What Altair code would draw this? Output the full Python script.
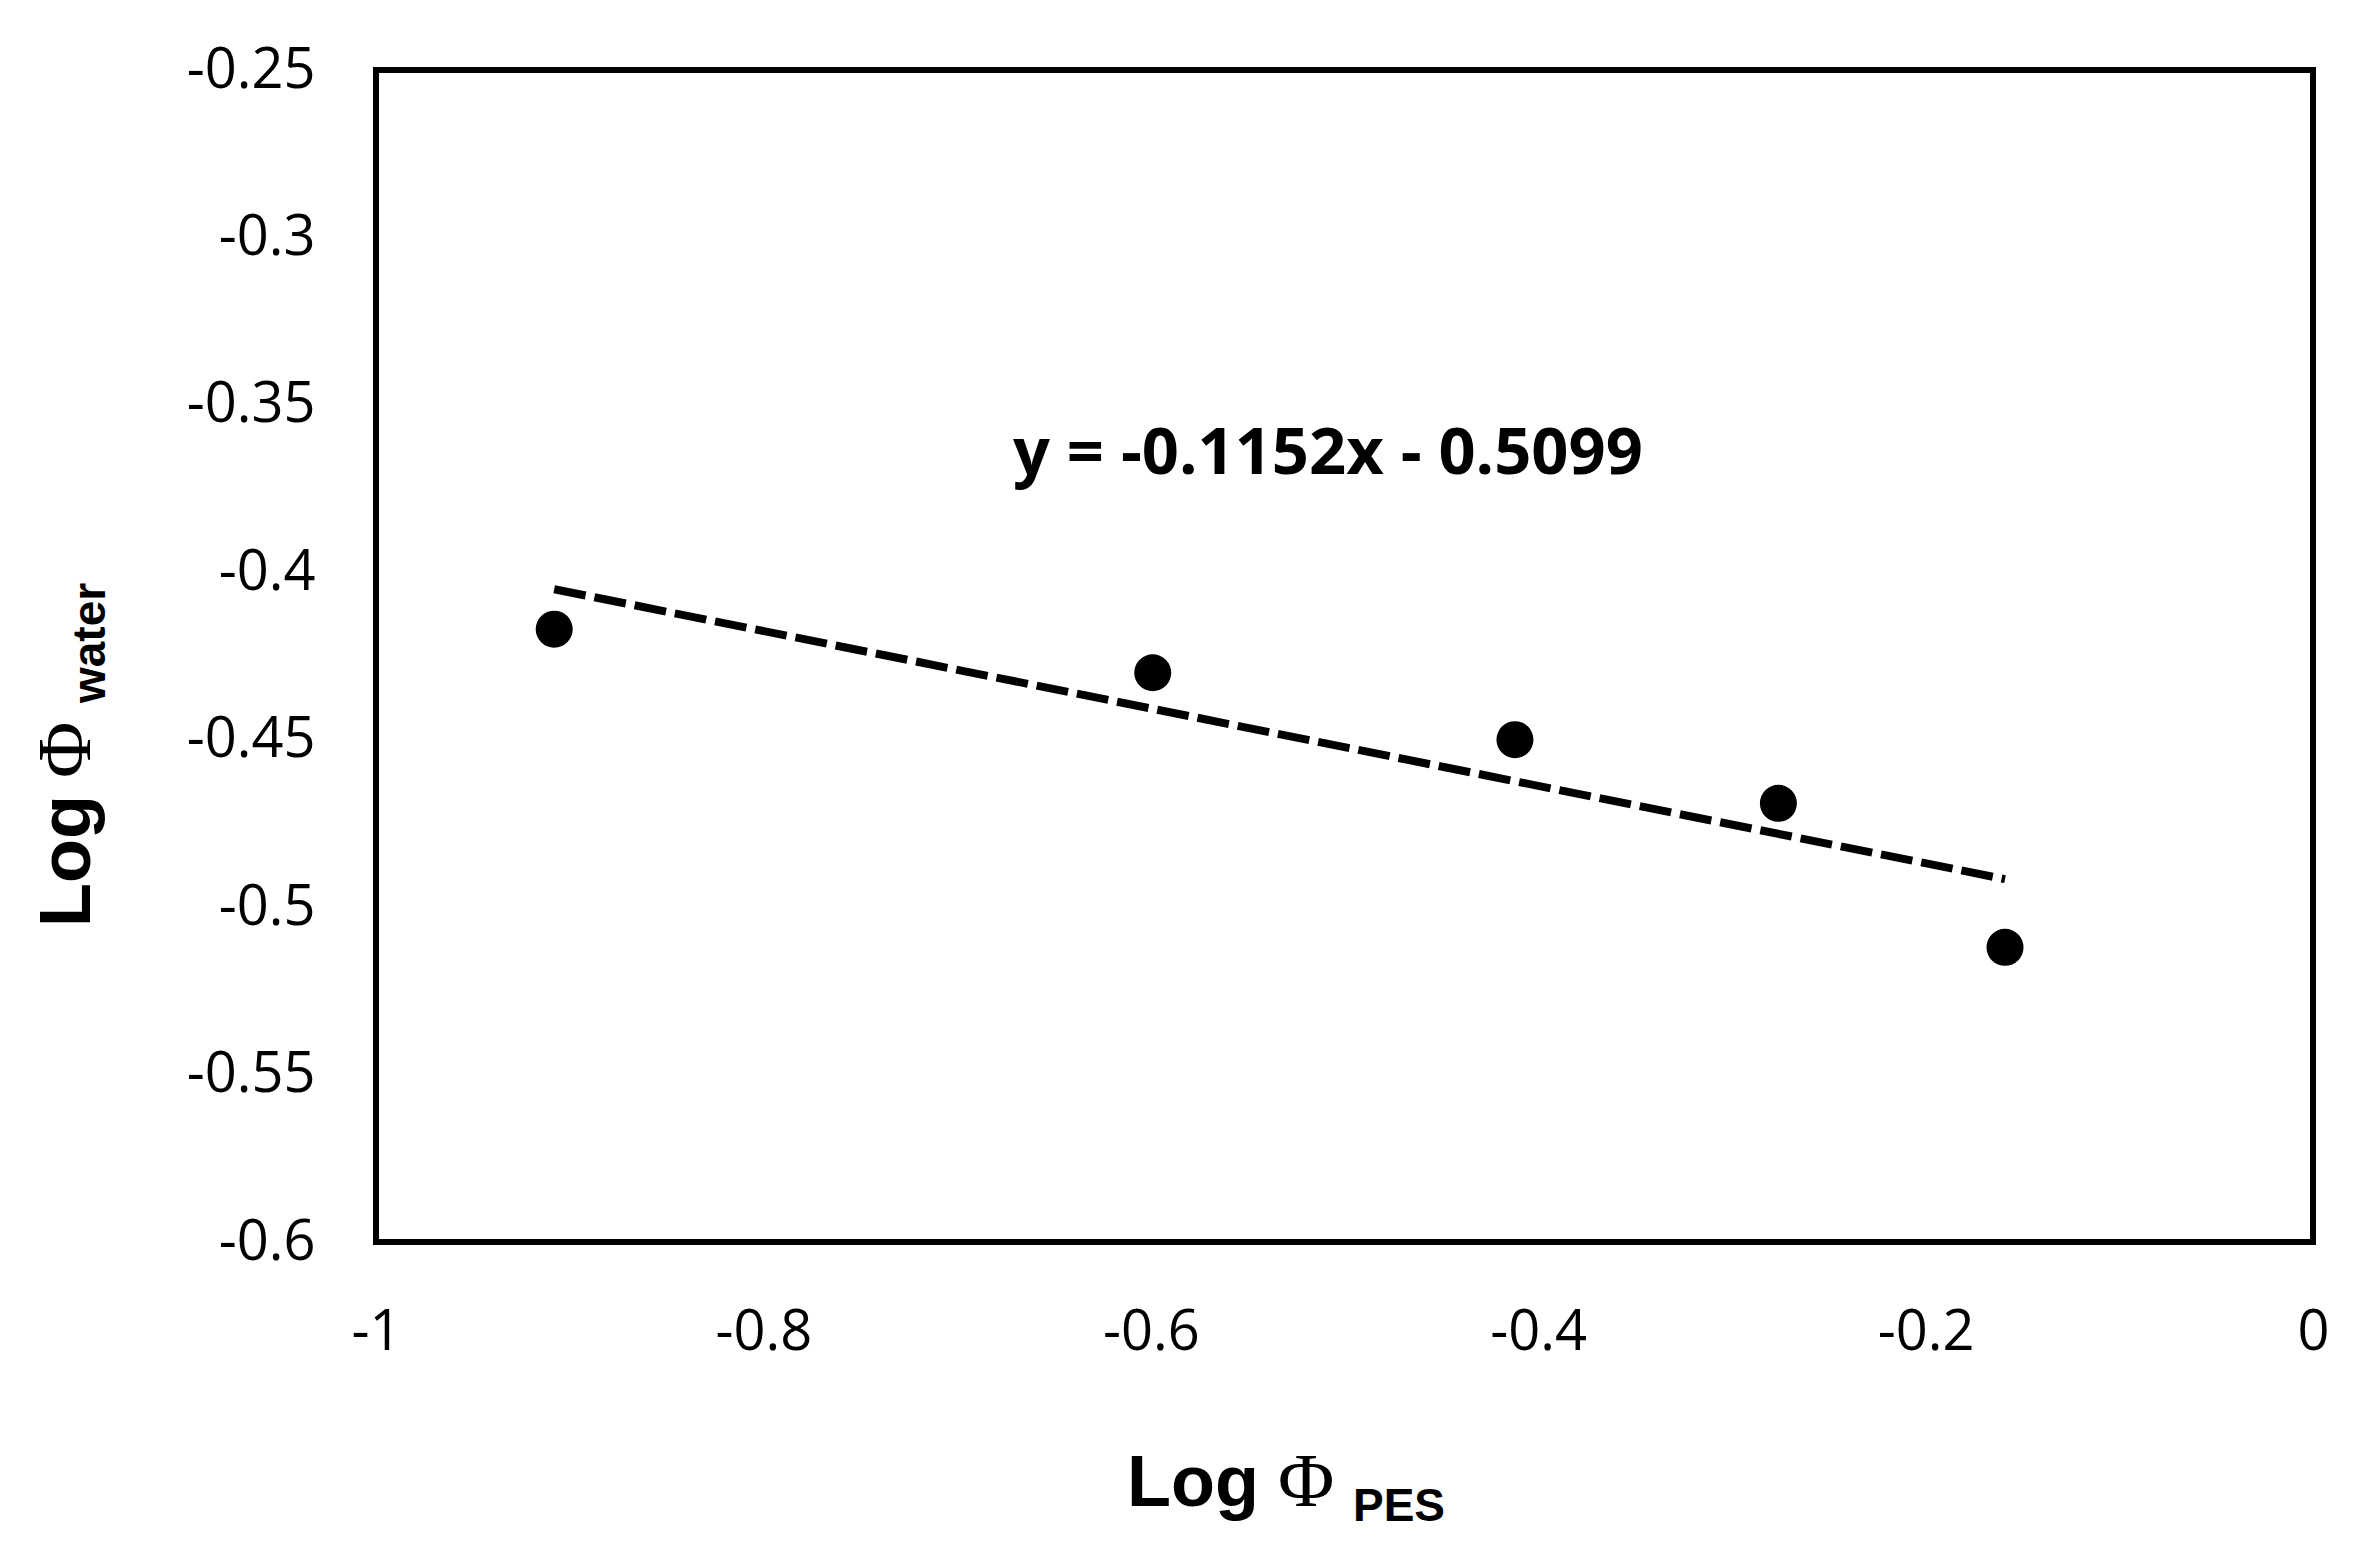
import altair as alt
import pandas as pd

# Data
log_phi_pes = [-0.908, -0.599, -0.412, -0.276, -0.159]
log_phi_water = [-0.417, -0.430, -0.450, -0.469, -0.512]
x_ticks = [-1, -0.8, -0.6, -0.4, -0.2, 0]
y_ticks = [-0.6, -0.55, -0.5, -0.45, -0.4, -0.35, -0.3, -0.25]
equation = "y = -0.1152x - 0.5099"

df = pd.DataFrame({"x": log_phi_pes, "y": log_phi_water})

W, H = 1937, 1172
TICK_FONT = "Open Sans"

xscale = alt.Scale(domain=[-1, 0], nice=False, zero=False)
yscale = alt.Scale(domain=[-0.6, -0.25], nice=False, zero=False)

xaxis = alt.Axis(values=x_ticks, labelExpr="'' + datum.value", title=None,
                 grid=False, ticks=False, tickSize=0, domain=False,
                 labelFont=TICK_FONT, labelFontSize=56, labelColor="black",
                 labelBaseline="alphabetic", labelPadding=107, labelFlush=False)
yaxis = alt.Axis(values=y_ticks, labelExpr="'' + datum.value", title=None,
                 grid=False, ticks=False, tickSize=0, domain=False,
                 labelFont=TICK_FONT, labelFontSize=56, labelColor="black",
                 labelPadding=61, labelBaseline="middle", labelFlush=False)

base = alt.Chart(df)

points = base.mark_point(filled=True, shape="circle", size=1370, color="black", opacity=1).encode(
    x=alt.X("x:Q", scale=xscale, axis=xaxis),
    y=alt.Y("y:Q", scale=yscale, axis=yaxis),
)

trend = base.transform_regression("x", "y").mark_line(
    color="black", strokeWidth=8, strokeDash=[32, 9]
).encode(
    x=alt.X("x:Q", scale=xscale),
    y=alt.Y("y:Q", scale=yscale),
)

one = alt.Data(values=[{"k": 1}])

def txt(text, x, y, font, size, weight="normal", angle=0, align="left"):
    return alt.Chart(one).mark_text(
        text=text, font=font, fontSize=size, fontWeight=weight, angle=angle,
        align=align, baseline="alphabetic", color="black"
    ).encode(x=alt.value(x), y=alt.value(y))

eq = txt(equation, 637, 404, "Open Sans", 65, "bold")

xt1 = txt("Log", 751, 1436, "Liberation Sans", 72, "bold")
xt2 = txt("Φ", 902, 1436, "Liberation Serif", 77)
xt3 = txt("PES", 977, 1451, "Liberation Sans", 46, "bold")

yt1 = txt("Log", -286, 857, "Liberation Sans", 72, "bold", angle=270)
yt2 = txt("Φ", -286, 708, "Liberation Serif", 77, angle=270)
yt3 = txt("water", -271, 633, "Liberation Sans", 46, "bold", angle=270)

chart = alt.layer(trend, points, eq, xt1, xt2, xt3, yt1, yt2, yt3).properties(
    width=W, height=H,
    autosize=alt.AutoSizeParams(type="none"),
    padding={"left": 368, "top": 62, "right": 40, "bottom": 300},
    background="white",
).configure_view(stroke="black", strokeWidth=6)

chart.save("out.html", embed_options={"renderer": "svg", "actions": False})
